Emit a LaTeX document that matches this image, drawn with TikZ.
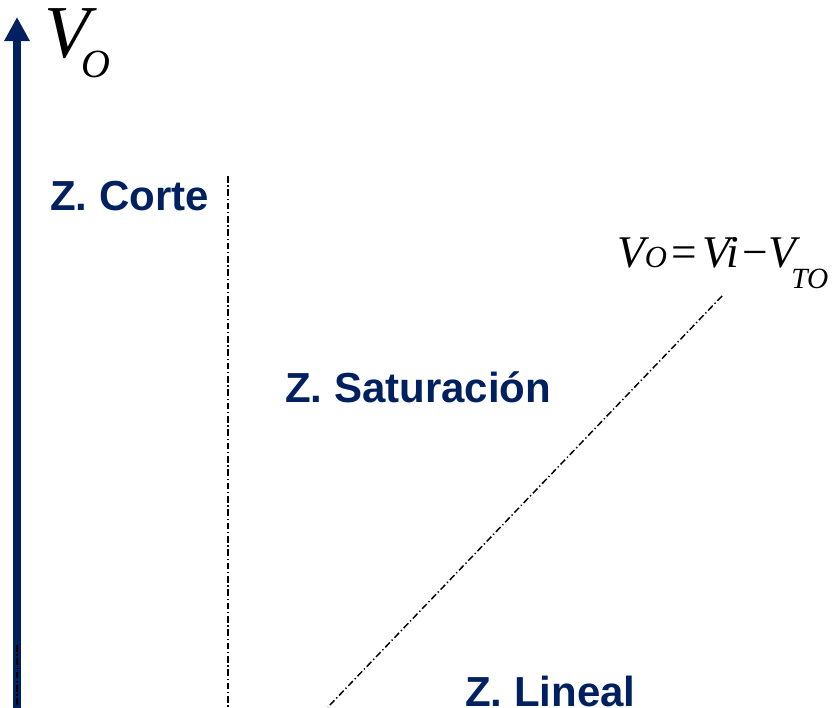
\documentclass[tikz,border=0pt]{standalone}
\usepackage{fontspec}
\setmainfont{Liberation Serif}
\newfontfamily\zonefont{Liberation Sans}
\usetikzlibrary{arrows.meta}
\definecolor{navy}{RGB}{0,32,96}

\begin{document}
\begin{tikzpicture}[
    x=0.75pt, y=-0.75pt,
    zone/.style={inner sep=0pt, anchor=base west, text=navy, font=\zonefont\bfseries\fontsize{31.5}{31.5}\selectfont},
    axis/.style={navy, line width=6pt, -{Triangle[width=18pt,length=18pt]}},
    guide/.style={line width=1.1pt, dash pattern=on 5pt off 2pt on 1pt off 2pt},
    eqn/.style={inner sep=0pt, anchor=base west, font=\fontsize{34}{34}\selectfont\itshape}
]
\useasboundingbox (0,0) rectangle (837,707);

% Vertical axis
\coordinate (axbot) at (17,712);
\coordinate (axtop) at (17,17);
\draw[axis] (axbot) -- (axtop);
\node[inner sep=0pt, anchor=base west, font=\fontsize{56}{56}\selectfont\itshape] (vlab) at (44,57) {V};
\node[inner sep=0pt, anchor=base west, font=\fontsize{30}{30}\selectfont\itshape] (vsub) at (81,77) {O};

% Boundary lines
\coordinate (cuttop) at (228,176);
\coordinate (cutbot) at (228,707);
\draw[guide] (cuttop) -- (cutbot);
\coordinate (lintop) at (722,296);
\coordinate (linbot) at (328,707);
\draw[guide] (lintop) -- (linbot);
\coordinate (axdtop) at (17,645);
\coordinate (axdbot) at (17,707);
\draw[guide] (axdtop) -- (axdbot);

% Zones
\node[zone] (corte) at (50,210) {Z. Corte};
\node[zone] (satur) at (285,402) {Z. Saturación};
\node[zone] (lineal) at (465,706) {Z. Lineal};

% Line equation
\node[eqn] (eq) at (617,267) {V{\fontsize{23}{23}\selectfont O}\hspace{3pt}\upshape=\hspace{4pt}\itshape Vi\hspace{3pt}\upshape−\itshape V};
\node[eqn, font=\fontsize{22}{22}\selectfont\itshape, xshift=-4pt, yshift=-16pt] (eqsub) at (eq.base east) {TO};

\end{tikzpicture}
\end{document}
